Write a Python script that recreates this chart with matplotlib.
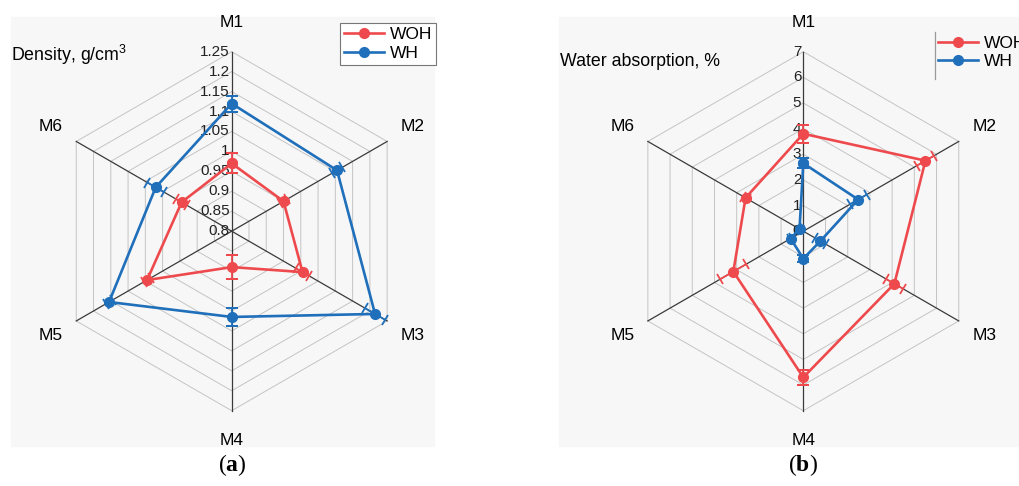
import numpy as np
import matplotlib
matplotlib.use("Agg")
import matplotlib.pyplot as plt
from matplotlib.patches import Rectangle
from matplotlib.lines import Line2D
from matplotlib.transforms import offset_copy

plt.rcParams["font.family"] = ["Liberation Sans", "DejaVu Sans"]
plt.rcParams["mathtext.fontset"] = "custom"
plt.rcParams["mathtext.rm"] = "Liberation Sans"
plt.rcParams["mathtext.bf"] = "Liberation Serif:bold"

# data
categories = ["M1", "M2", "M3", "M4", "M5", "M6"]

dens_woh = [0.97, 0.95, 1.005, 0.89, 1.045, 0.945]
dens_woh_err = [0.025, 0.01, 0.018, 0.03, 0.01, 0.015]
dens_wh = [1.12, 1.105, 1.215, 1.015, 1.155, 1.02]
dens_wh_err = [0.02, 0.015, 0.03, 0.023, 0.01, 0.024]
dens_ticks = [0.8, 0.85, 0.9, 0.95, 1.0, 1.05, 1.1, 1.15, 1.2, 1.25]
dens_ticklabels = ["0.8", "0.85", "0.9", "0.95", "1", "1.05", "1.1", "1.15", "1.2", "1.25"]

wa_woh = [3.8, 5.5, 4.1, 5.7, 3.15, 2.6]
wa_woh_err = [0.35, 0.38, 0.37, 0.28, 0.59, 0.1]
wa_wh = [2.65, 2.47, 0.77, 1.07, 0.57, 0.17]
wa_wh_err = [0.2, 0.38, 0.26, 0.15, 0.05, 0.05]
wa_ticks = [0, 1, 2, 3, 4, 5, 6, 7]
wa_ticklabels = ["0", "1", "2", "3", "4", "5", "6", "7"]

series_names = ["WOH", "WH"]
RED = "#ee4a4d"
BLUE = "#1f6fba"

W, H = 1020, 486
fig = plt.figure(figsize=(W / 100, H / 100), dpi=100)
fig.patch.set_facecolor("white")

# grey panels behind each chart
fig.patches.append(Rectangle((11 / W, 1 - 446 / H), 423 / W, 429 / H,
                             transform=fig.transFigure, color="#f7f7f7", zorder=-10))
fig.patches.append(Rectangle((559 / W, 1 - 446 / H), 461 / W, 429 / H,
                             transform=fig.transFigure, color="#f7f7f7", zorder=-10))


def radar(rect, ticks, ticklabels, woh, woh_err, wh, wh_err, title, title_xy):
    ax = fig.add_axes(rect, projection="polar")
    ax.set_theta_zero_location("N")
    ax.set_theta_direction(-1)
    ax.set_ylim(ticks[0], ticks[-1])
    ax.grid(False)
    ax.set_xticks([])
    ax.set_yticks([])
    ax.spines["polar"].set_visible(False)
    ax.patch.set_alpha(0)

    theta = np.deg2rad(np.arange(len(categories)) * 60)
    closed = np.append(theta, theta[0])

    # hexagonal rings
    for t in ticks[1:]:
        ax.plot(closed, [t] * len(closed), color="#c4c4c4", lw=0.7, zorder=1, clip_on=False)
    # spokes
    for th in theta:
        ax.plot([th, th], [ticks[0], ticks[-1]], color="#3a3a3a", lw=0.9, zorder=1, clip_on=False)

    # radial tick labels along M1 spoke
    trans = offset_copy(ax.transData, fig=fig, x=-2, y=0, units="dots")
    for t, lab in zip(ticks, ticklabels):
        ax.text(0, t, lab, ha="right", va="center", fontsize=11, color="#222222",
                transform=trans, zorder=2)

    # category labels
    rlab = ticks[0] + (ticks[-1] - ticks[0]) * 1.165
    for th, name in zip(theta, categories):
        ax.text(th, rlab, name, ha="center", va="center", fontsize=12.5)

    for vals, errs, col in [(woh, woh_err, RED), (wh, wh_err, BLUE)]:
        ax.errorbar(theta, vals, yerr=errs, fmt="none", ecolor=col, elinewidth=1.3,
                    capsize=4, capthick=1.3, zorder=3)
        ax.plot(closed, np.append(vals, vals[0]), color=col, lw=1.9, marker="o",
                markersize=7, markerfacecolor=col, markeredgecolor=col, zorder=4,
                clip_on=False)

    fig.text(title_xy[0] / W, 1 - title_xy[1] / H, title, fontsize=12.8, ha="left", va="center")
    return ax


ax1 = radar([52.2 / W, 1 - 410.7 / H, 359 / W, 359 / H], dens_ticks, dens_ticklabels,
            dens_woh, dens_woh_err, dens_wh, dens_wh_err, "Density, g/cm$^3$", (11, 55))
ax2 = radar([623.8 / W, 1 - 410.7 / H, 359 / W, 359 / H], wa_ticks, wa_ticklabels,
            wa_woh, wa_woh_err, wa_wh, wa_wh_err, "Water absorption, %", (560, 61))

handles = [Line2D([], [], color=RED, lw=1.9, marker="o", markersize=7),
           Line2D([], [], color=BLUE, lw=1.9, marker="o", markersize=7)]

leg1 = ax1.legend(handles, series_names, loc="upper left", bbox_to_anchor=(340 / W, 1 - 23 / H),
                  bbox_transform=fig.transFigure, fontsize=12.5, frameon=True, fancybox=False,
                  edgecolor="#777777", framealpha=1, facecolor="white", borderaxespad=0,
                  borderpad=0.25, handlelength=2.3, handletextpad=0.3, labelspacing=0.2)
leg1.get_frame().set_linewidth(0.8)

leg2 = ax2.legend(handles, series_names, loc="upper left", bbox_to_anchor=(935 / W, 1 - 32 / H),
                  bbox_transform=fig.transFigure, fontsize=12.5, frameon=False, borderaxespad=0,
                  borderpad=0.2, handlelength=2.3, handletextpad=0.3, labelspacing=0.2)
fig.add_artist(Line2D([935 / W, 935 / W], [1 - 32 / H, 1 - 79 / H], transform=fig.transFigure,
                      color="#999999", lw=0.9))

# captions
fig.text(232 / W, 1 - 465 / H, r"($\mathbf{a}$)", family="Liberation Serif", fontsize=17,
         ha="center", va="center")
fig.text(803 / W, 1 - 465 / H, r"($\mathbf{b}$)", family="Liberation Serif", fontsize=17,
         ha="center", va="center")

fig.savefig("out.png", dpi=100)
